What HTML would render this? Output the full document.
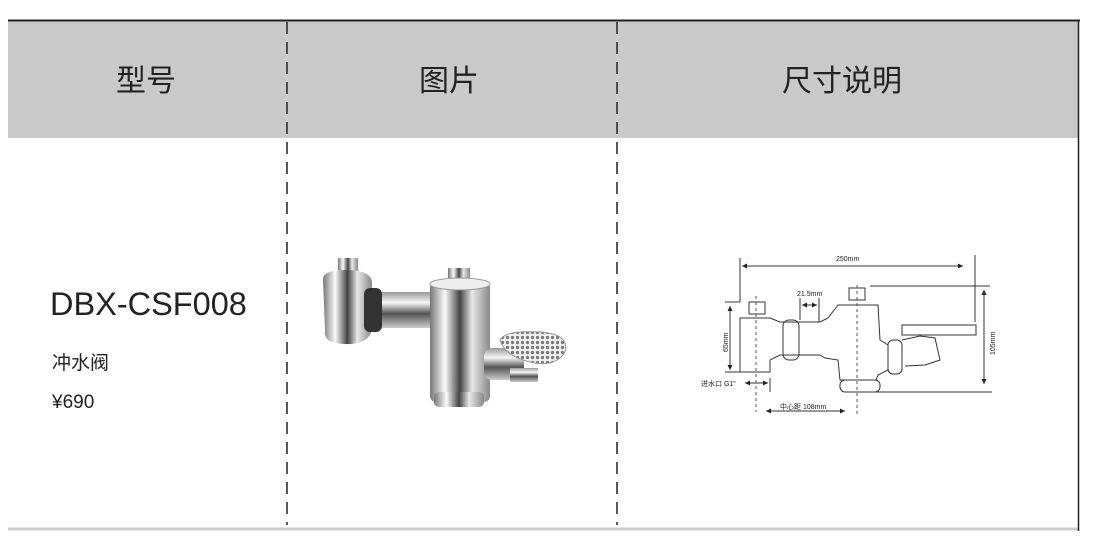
<!DOCTYPE html>
<html><head><meta charset="utf-8"><style>
body{margin:0;background:#fff;width:1094px;height:553px;overflow:hidden;position:relative;font-family:"Liberation Sans","Noto Sans CJK SC",sans-serif}
.t{position:absolute;color:#222;white-space:nowrap}
</style></head><body>
<svg width="1094" height="553" style="position:absolute;left:0;top:0">
<defs>
<linearGradient id="ch" x1="0" x2="1"><stop offset="0" stop-color="#777"/><stop offset=".25" stop-color="#fafafa"/><stop offset=".5" stop-color="#444"/><stop offset=".7" stop-color="#e8e8e8"/><stop offset="1" stop-color="#888"/></linearGradient>
<linearGradient id="cv" x1="0" y1="0" x2="0" y2="1"><stop offset="0" stop-color="#999"/><stop offset=".3" stop-color="#f5f5f5"/><stop offset=".6" stop-color="#555"/><stop offset="1" stop-color="#ccc"/></linearGradient>
<pattern id="grid" width="5" height="5" patternUnits="userSpaceOnUse"><rect width="5" height="5" fill="#eee"/><circle cx="2.5" cy="2.5" r="1.6" fill="#777"/></pattern>
<marker id="a" viewBox="0 0 6 6" refX="6" refY="3" markerWidth="5" markerHeight="5" orient="auto-start-reverse"><path d="M0 0L6 3L0 6Z" fill="#222"/></marker>
</defs>
<rect x="8" y="20" width="1071" height="118" fill="#c9c9c9"/>
<line x1="8" y1="20.5" x2="1080" y2="20.5" stroke="#222" stroke-width="2"/>
<line x1="8" y1="529" x2="1078" y2="529" stroke="#ccc" stroke-width="3"/>
<line x1="1078.5" y1="20" x2="1078.5" y2="531" stroke="#222" stroke-width="1.5"/>
<line x1="287" y1="22" x2="287" y2="525" stroke="#222" stroke-width="1.5" stroke-dasharray="12,8"/>
<line x1="617" y1="22" x2="617" y2="525" stroke="#222" stroke-width="1.5" stroke-dasharray="12,8"/>
<g>
<rect x="338" y="258" width="20" height="18" fill="url(#ch)"/>
<path d="M323 280 Q322 270 345 270 Q372 270 372 283 L372 330 Q368 345 345 344 Q323 344 325 330 Z" fill="url(#ch)"/>
<rect x="368" y="292" width="70" height="36" fill="url(#cv)"/>
<rect x="364" y="288" width="18" height="44" rx="6" fill="#333"/>
<rect x="448" y="268" width="22" height="18" fill="url(#ch)"/>
<rect x="430" y="282" width="60" height="120" rx="6" fill="url(#ch)"/>
<ellipse cx="460" cy="284" rx="30" ry="6" fill="#eee" stroke="#999"/>
<rect x="434" y="392" width="50" height="15" rx="5" fill="url(#ch)"/>
<rect x="484" y="348" width="40" height="32" rx="8" fill="url(#cv)"/>
<rect x="510" y="368" width="28" height="14" fill="url(#cv)"/>
<path d="M500 340 Q505 330 540 332 Q570 334 565 352 Q555 368 530 362 Q505 356 500 340Z" fill="url(#grid)" stroke="#999"/>
</g>
<g stroke="#333" fill="none" stroke-width="1">
<line x1="742" y1="266" x2="963" y2="266" marker-start="url(#a)" marker-end="url(#a)"/><line x1="740" y1="258" x2="740" y2="302"/><line x1="975" y1="255" x2="975" y2="322"/>
<line x1="730" y1="306" x2="730" y2="370" marker-start="url(#a)" marker-end="url(#a)"/><line x1="725" y1="302" x2="740" y2="302"/><line x1="725" y1="372" x2="745" y2="372"/>
<line x1="984" y1="290" x2="984" y2="384" marker-start="url(#a)" marker-end="url(#a)"/><line x1="870" y1="286" x2="990" y2="286"/><line x1="875" y1="392" x2="992" y2="392"/>
<line x1="745" y1="383" x2="768" y2="383" marker-start="url(#a)" marker-end="url(#a)"/><line x1="770" y1="378" x2="770" y2="392"/>
<line x1="766" y1="411" x2="845" y2="411" marker-start="url(#a)" marker-end="url(#a)"/>
<line x1="802" y1="305" x2="817" y2="305" marker-start="url(#a)" marker-end="url(#a)"/><line x1="800" y1="298" x2="800" y2="320"/><line x1="819" y1="298" x2="819" y2="322"/>
<rect x="749" y="302" width="16" height="12"/><rect x="849" y="288" width="16" height="12"/>
<path d="M740 318 L770 318 L780 322 L820 322 L828 318 L838 305 L878 305 L880 340 L888 345 L888 370 L878 375 L876 380 L840 380 L838 360 L825 358 L820 355 L780 355 L770 360 L770 372 L740 372 Z"/>
<rect x="783" y="320" width="16" height="40" rx="6"/><rect x="888" y="340" width="14" height="34" rx="5"/>
<rect x="902" y="325" width="74" height="10"/><path d="M902 340 L920 336 L935 338 L940 360 L925 365 L905 366"/>
<rect x="840" y="380" width="40" height="12" rx="5"/>
</g>
<g stroke="#555" stroke-dasharray="3,3"><line x1="756" y1="296" x2="756" y2="412"/><line x1="857" y1="285" x2="857" y2="414"/></g>
<g fill="#222" font-family="Liberation Sans,Noto Sans CJK SC,sans-serif" font-size="7">
<text x="836" y="261">250mm</text><text x="797" y="296">21.5mm</text>
<text x="701" y="386">进水口 G1"</text><text x="780" y="409">中心距 108mm</text>
<text transform="translate(728,352) rotate(-90)">65mm</text><text transform="translate(995,355) rotate(-90)">105mm</text>
</g>
</svg>
<div class="t" style="left:116px;top:56px;font-size:30px">型号</div>
<div class="t" style="left:419px;top:56px;font-size:30px">图片</div>
<div class="t" style="left:782px;top:56px;font-size:30px">尺寸说明</div>
<div class="t" style="left:50px;top:286px;font-size:32.5px">DBX-CSF008</div>
<div class="t" style="left:52px;top:348px;font-size:19px">冲水阀</div>
<div class="t" style="left:52px;top:392px;font-size:19px">¥690</div>
</body></html>
